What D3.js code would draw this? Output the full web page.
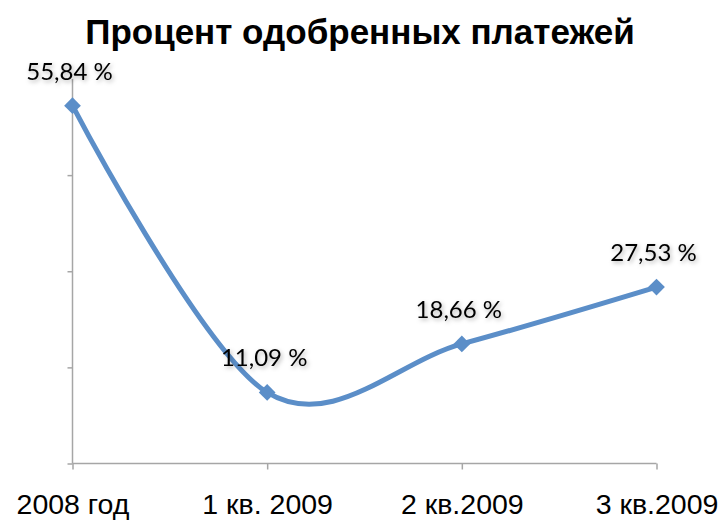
<!DOCTYPE html>
<html><head><meta charset="utf-8">
<script src="https://cdn.jsdelivr.net/npm/d3@7/dist/d3.min.js"></script>
<style>body{margin:0;background:#fff}</style>
</head><body>
<svg id="c" width="720" height="520"></svg>
<script>
const categories = ["2008 год", "1 кв. 2009", "2 кв.2009", "3 кв.2009"];
const values = [55.84, 11.09, 18.66, 27.53];
const valueLabels = ["55,84 %", "11,09 %", "18,66 %", "27,53 %"];
const yTicks = [0, 15, 30, 45];
const title = "Процент одобренных платежей";

const svg = d3.select("#c");
const x = d3.scalePoint().domain(categories).range([72.5, 656.5]);
const y = d3.scaleLinear().domain([0, 60]).range([463.5, 79]);
const axisColor = "#a6a6a6";

const defs = svg.append("defs");
const f = defs.append("filter").attr("id", "sh").attr("x", "-20%").attr("y", "-40%").attr("width", "150%").attr("height", "200%");
f.append("feDropShadow").attr("dx", 1.5).attr("dy", 2).attr("stdDeviation", 2).attr("flood-color", "#000").attr("flood-opacity", 0.3);

svg.append("text").attr("x", 360).attr("y", 44).attr("text-anchor", "middle")
  .attr("font-family", "Liberation Sans, Arial, sans-serif").attr("font-weight", "bold")
  .attr("font-size", 35).attr("fill", "#000").text(title);

// Y axis
const ya = svg.append("g").attr("transform", `translate(${x(categories[0])},0)`)
  .call(d3.axisLeft(y).tickValues(yTicks).tickSize(5).tickFormat(""));
ya.select(".domain").attr("d", `M0,${y(60)}V${y(0)}`);
ya.selectAll("path,line").attr("stroke", axisColor).attr("stroke-width", 1.5);

// X axis
const xa = svg.append("g").attr("transform", `translate(0,${y(0)})`)
  .call(d3.axisBottom(x).tickSize(6).tickSizeOuter(0));
xa.select(".domain").attr("d", `M${x(categories[0])},0H${x(categories[3])}`);
xa.selectAll("path,line").attr("stroke", axisColor).attr("stroke-width", 1.5);
xa.selectAll("text").attr("y", 50).attr("dy", 0)
  .attr("font-family", "Liberation Sans, Arial, sans-serif").attr("font-size", 28.5).attr("fill", "#000");

const data = categories.map((c, i) => ({c, v: values[i], l: valueLabels[i]}));
const line = d3.line().x(d => x(d.c)).y(d => y(d.v)).curve(d3.curveCardinal.tension(0));
svg.append("path").datum(data).attr("d", line).attr("fill", "none")
  .attr("stroke", "#5b8ec8").attr("stroke-width", 5).attr("stroke-linejoin", "round");

svg.selectAll(".m").data(data).enter().append("path")
  .attr("d", d3.symbol().type(d3.symbolSquare).size(140))
  .attr("transform", d => `translate(${x(d.c)},${y(d.v)}) rotate(45)`)
  .attr("fill", "#5b8ec8");

svg.selectAll(".lbl").data(data).enter().append("text")
  .attr("x", d => x(d.c) - 3).attr("y", d => y(d.v) - 26)
  .attr("text-anchor", "middle").attr("font-family", "Lato, Carlito, sans-serif")
  .attr("font-size", 24).attr("fill", "#000").attr("filter", "url(#sh)")
  .text(d => d.l);
</script>
</body></html>
